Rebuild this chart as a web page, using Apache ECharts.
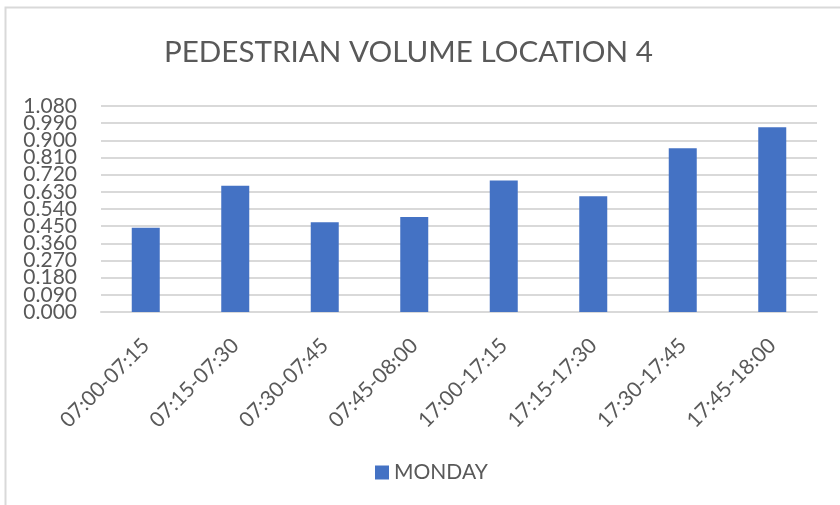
<!DOCTYPE html>
<html>
<head>
<meta charset="utf-8">
<script src="https://cdn.jsdelivr.net/npm/echarts@6/dist/echarts.min.js"></script>
<style>
    html, body { margin: 0; padding: 0; background: #fff; }
    #chart { width: 840px; height: 505px; }
</style>
</head>
<body>
<div id="chart"></div>
<script>
    // 时间段
    const categories = ['07:00-07:15', '07:15-07:30', '07:30-07:45', '07:45-08:00',
        '17:00-17:15', '17:15-17:30', '17:30-17:45', '17:45-18:00'];
    const mondayValues = [0.442, 0.662, 0.470, 0.498, 0.690, 0.607, 0.858, 0.968];
    const yMin = 0;
    const yMax = 1.08;
    const yStep = 0.09;

    const textColor = '#595959';
    const fontFamily = 'Lato, "Open Sans", sans-serif';

    // 两个 y 轴叠在一起: 一个画中间刻度, 一个只画首尾, 避免 ECharts 隐藏重叠标签
    const yLabelBase = {
        color: textColor,
        fontSize: 21,
        margin: 24,
        lineHeight: 12,
        hideOverlap: false
    };

    let myChart = echarts.init(document.getElementById('chart'));
    myChart.setOption({
        animation: false,
        backgroundColor: '#fff',
        textStyle: { fontFamily: fontFamily },
        title: {
            text: 'PEDESTRIAN VOLUME LOCATION 4',
            left: 159,
            top: 32,
            textStyle: {
                color: textColor,
                fontSize: 29.6,
                fontWeight: 'normal',
                fontFamily: fontFamily
            }
        },
        legend: {
            data: ['MONDAY'],
            bottom: 22,
            left: 375,
            padding: 0,
            itemWidth: 14,
            itemHeight: 14,
            itemGap: 6,
            icon: 'rect',
            textStyle: { color: textColor, fontSize: 21 }
        },
        grid: {
            left: 101,
            right: 23,
            top: 106,
            bottom: 193
        },
        xAxis: {
            type: 'category',
            data: categories,
            axisLine: { lineStyle: { color: '#d9d9d9', width: 2 } },
            axisTick: { show: false },
            axisLabel: {
                rotate: 45,
                color: textColor,
                fontSize: 21,
                margin: 30
            }
        },
        yAxis: [
            {
                type: 'value',
                position: 'left',
                min: yMin,
                max: yMax,
                interval: yStep,
                axisLine: { show: false },
                axisTick: { show: false },
                splitLine: { lineStyle: { color: '#d9d9d9', width: 2 } },
                axisLabel: Object.assign({}, yLabelBase, {
                    showMinLabel: false,
                    showMaxLabel: false,
                    formatter: v => v.toFixed(3)
                })
            },
            {
                type: 'value',
                position: 'left',
                offset: 0,
                min: yMin,
                max: yMax,
                interval: yStep,
                axisLine: { show: false },
                axisTick: { show: false },
                splitLine: { show: false },
                axisLabel: Object.assign({}, yLabelBase, {
                    showMinLabel: true,
                    showMaxLabel: true,
                    formatter: v => (Math.abs(v - yMin) < 1e-9 || Math.abs(v - yMax) < 1e-9) ? v.toFixed(3) : ''
                })
            }
        ],
        series: [
            {
                name: 'MONDAY',
                type: 'bar',
                yAxisIndex: 0,
                data: mondayValues,
                barWidth: 28,
                itemStyle: { color: '#4472c4' }
            }
        ],
        graphic: [
            {
                type: 'polyline',
                shape: { points: [[5.5, 505], [5.5, 7.5], [840, 7.5]] },
                style: { stroke: '#d9d9d9', lineWidth: 2, fill: null }
            }
        ]
    });
</script>
</body>
</html>
